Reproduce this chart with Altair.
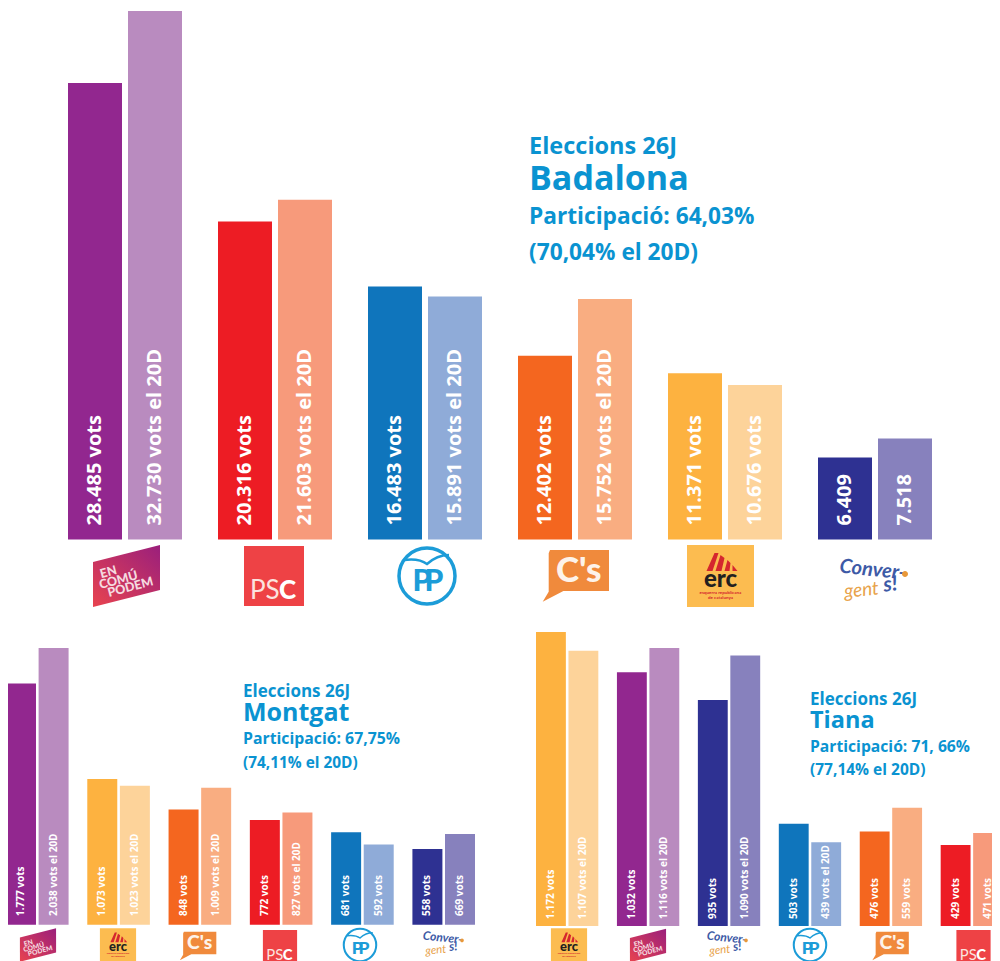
import altair as alt
import pandas as pd

FONT = "Open Sans"
LOGO_FONT = "Lato"
BLUE = "#0a93d1"
BAD_PARTIES = ["ECP", "PSC", "PP", "Cs", "ERC", "CDC"]
BAD_26J = [28485, 20316, 16483, 12402, 11371, 6409]
BAD_20D = [32730, 21603, 15891, 15752, 10676, 7518]
BAD_LAB_26J = ["28.485 vots", "20.316 vots", "16.483 vots", "12.402 vots", "11.371 vots", "6.409"]
BAD_LAB_20D = ["32.730 vots el 20D", "21.603 vots el 20D", "15.891 vots el 20D", "15.752 vots el 20D", "10.676 vots", "7.518"]

MON_PARTIES = ["ECP", "ERC", "Cs", "PSC", "PP", "CDC"]
MON_26J = [1777, 1073, 848, 772, 681, 558]
MON_20D = [2038, 1023, 1009, 827, 592, 669]
MON_LAB_26J = ["1.777 vots", "1.073 vots", "848 vots", "772 vots", "681 vots", "558 vots"]
MON_LAB_20D = ["2.038 vots el 20D", "1.023 vots el 20D", "1.009 vots el 20D", "827 vots el 20D", "592 vots", "669 vots"]

TIA_PARTIES = ["ERC", "ECP", "CDC", "PP", "Cs", "PSC"]
TIA_26J = [1172, 1032, 935, 503, 476, 429]
TIA_20D = [1107, 1116, 1090, 439, 559, 471]
TIA_LAB_26J = ["1.172 vots", "1.032 vots", "935 vots", "503 vots", "476 vots", "429 vots"]
TIA_LAB_20D = ["1.107 vots el 20D", "1.116 vots el 20D", "1.090 vots el 20D", "439 vots el 20D", "559 vots", "471 vots"]

COLOR_KEYS = ["ECP 26J", "ECP 20D", "PSC 26J", "PSC 20D", "PP 26J", "PP 20D",
              "Cs 26J", "Cs 20D", "ERC 26J", "ERC 20D", "CDC 26J", "CDC 20D"]
COLOR_VALUES = ["#92278f", "#b98bbf", "#ed1c24", "#f79a7b", "#0f75bc", "#8fabd8",
                "#f4661f", "#f9ad81", "#fdb240", "#fdd39a", "#2e3192", "#8781bd"]


def P(x):
    return x - 8


def panel(parties, v26, v20, l26, l20, xr, pad, off_pad, yd, yr, fs, lab_off):
    rows = []
    for p, a, b, la, lb in zip(parties, v26, v20, l26, l20):
        rows.append(dict(party=p, year="26J", votes=a, label=la, key=p + " 26J"))
        rows.append(dict(party=p, year="20D", votes=b, label=lb, key=p + " 20D"))
    df = pd.DataFrame(rows)
    band = (xr[1] - xr[0]) / (6 + 5 * pad / (1 - pad))
    x = alt.X("party:N", sort=None, axis=None, title=None,
              scale=alt.Scale(type="band", domain=parties, range=[P(xr[0]), P(xr[1])], paddingInner=pad, paddingOuter=0))
    xo = alt.XOffset("year:N", sort=None,
                     scale=alt.Scale(type="band", domain=["26J", "20D"], range=[0, band], paddingInner=off_pad, paddingOuter=0))
    y = alt.Y("votes:Q", axis=None, title=None,
              scale=alt.Scale(domain=yd, range=[P(yr[0]), P(yr[1])], nice=False, zero=False, clamp=True))
    c = alt.Color("key:N", legend=None, scale=alt.Scale(domain=COLOR_KEYS, range=COLOR_VALUES))
    bars = alt.Chart(df).mark_bar().encode(x=x, xOffset=xo, y=y, y2=alt.value(P(yr[0])), color=c)
    text = alt.Chart(df).mark_text(font=FONT, fontWeight="bold", fontSize=fs, angle=270, align="left",
                                   baseline="middle", color="white", y=P(yr[0] - lab_off)
                                   ).encode(x=x, xOffset=xo, text="label:N")
    return alt.layer(bars, text).resolve_scale(x="independent", xOffset="independent", y="independent")


def txt(s, x, y, size, color=BLUE, weight="bold", angle=0, align="left", style="normal", font=FONT, baseline="alphabetic"):
    return alt.Chart(pd.DataFrame({"t": [s]})).mark_text(
        x=P(x), y=P(y), fontSize=size, color=color, fontWeight=weight, angle=angle, align=align,
        font=font, fontStyle=style, baseline=baseline).encode(text="t:N")


def shp(path, cx, cy, s, fill=None, stroke=None, sw=1.0):
    kw = {}
    if fill is not None:
        kw.update(filled=True, fill=fill, opacity=1, strokeWidth=0)
    if stroke is not None:
        kw.update(filled=False, stroke=stroke, strokeWidth=sw * s, opacity=1)
    return alt.Chart(pd.DataFrame({"a": [0]})).mark_point(
        shape=path, size=4 * s * s, x=P(cx), y=P(cy), **kw).encode(detail="a:Q")


def logo(party, cx, cy, s):
    out = []
    def t(string, dx, dy, size, **k):
        out.append(txt(string, cx + dx * s, cy + dy * s, size * s, font=LOGO_FONT, **k))
    if party == "ECP":
        grad = alt.LinearGradient(gradient="linear", x1=0, y1=1, x2=1, y2=0,
                                  stops=[alt.GradientStop(offset=0, color="#e8434f"),
                                         alt.GradientStop(offset=1, color="#9a1f7c")])
        out.append(shp("M-33.5,-14L33.5,-31L33.5,14L-33.5,31Z", cx, cy, s, fill=grad))
        t("EN", -17, 0, 12.5, color="#f5dbe0", weight=900, angle=345, align="center")
        t("COMÚ", -7, 8, 12.5, color="#f5dbe0", weight=900, angle=345, align="center")
        t("PODEM", 5, 15, 12.5, color="#f5dbe0", weight=900, angle=345, align="center")
    elif party == "PSC":
        out.append(shp("M-30,-30L30,-30L30,30L-30,30Z", cx, cy, s, fill="#ee4245"))
        t("PS", -24, 23, 26, color="#fbe3df", weight="normal")
        t("C", 5, 23, 26, color="white", weight=900)
    elif party == "PP":
        col = "#1c9cd8"
        out.append(shp("M-28,0A28,28 0 1,1 28,0A28,28 0 1,1 -28,0Z", cx, cy, s, stroke=col, sw=3.5))
        out.append(shp("M-23,-16Q-8,-18 0,-12Q10,-21 22,-21", cx, cy, s, stroke=col, sw=2.5))
        t("P", -5, 15, 30, color=col, weight=900, align="center")
        t("P", 7, 15, 30, color=col, weight=900, align="center")
    elif party == "Cs":
        out.append(shp("M-25.7,-26L33.3,-26L33.3,15L-12.3,15L-33,25.7L-27,15.7L-27,-22.7Z", cx, cy, s, fill="#f08a3c"))
        t("C's", 3, 6, 35, color="#fdf3ea", weight=900, align="center")
    elif party == "ERC":
        out.append(shp("M-33.5,-31L33.5,-31L33.5,31L-33.5,31Z", cx, cy, s, fill="#fcbc50"))
        out.append(shp("M-14,-5L-6,-23L-2,-23L-8,-5ZM-5,-5L0,-21L4,-18L1,-5ZM4,-5L7,-16L10,-13L9,-5ZM12,-5L12,-11L17,-5Z", cx, cy, s, fill="#d5272e"))
        t("erc", 0, 11, 24, color="#231f20", weight=900, align="center")
        t("esquerra republicana", 0, 18, 4.5, color="#d5272e", align="center")
        t("de catalunya", 0, 23, 4.5, color="#d5272e", align="center")
    else:
        t("Conver-", -3, -4, 20, color="#3d5aa6", weight="bold", style="italic", align="center", angle=6)
        t("gent", -13, 16, 19, color="#e8a24a", weight="normal", style="italic", align="center", angle=354)
        t("s!", 16, 11, 21, color="#3d5aa6", weight="bold", style="italic", align="center", angle=354)
        out.append(shp("M-3,0A3,3 0 1,1 3,0A3,3 0 1,1 -3,0Z", cx + 30 * s, cy - 6 * s, s, fill="#e8983a"))
    return out


badalona = panel(BAD_PARTIES, BAD_26J, BAD_20D, BAD_LAB_26J, BAD_LAB_20D,
                 (68, 932), 0.24, 0.1, [1569, 32730], (539.5, 11), 20, 14)
montgat = panel(MON_PARTIES, MON_26J, MON_20D, MON_LAB_26J, MON_LAB_20D,
                (6, 475), 0.23, 0.08, [-9, 2038], (926, 648), 10, 10)
tiana = panel(TIA_PARTIES, TIA_26J, TIA_20D, TIA_LAB_26J, TIA_LAB_20D,
              (536, 1003), 0.23, 0.08, [146.5, 1172], (926, 632), 10, 7)

layers = [badalona, montgat, tiana]
for s, x, y, size in [
    ("Eleccions 26J", 529, 154, 23.5), ("Badalona", 529, 190, 34),
    ("Participació: 64,03%", 529, 224, 22.7), ("(70,04% el 20D)", 529, 260, 22.7),
    ("Eleccions 26J", 243, 697, 17), ("Montgat", 243, 721, 25),
    ("Participació: 67,75%", 243, 744, 15.8), ("(74,11% el 20D)", 243, 768, 15.4),
    ("Eleccions 26J", 810, 705, 17), ("Tiana", 810, 728, 23.5),
    ("Participació: 71, 66%", 810, 752, 15.7), ("(77,14% el 20D)", 810, 775, 15.5),
]:
    layers.append(txt(s, x, y, size))

for party, cx, cy, s in [
    ("ECP", 126.5, 576, 1), ("PSC", 274, 576, 1), ("PP", 427, 576, 1), ("Cs", 575.7, 576, 1),
    ("ERC", 720.5, 576, 1), ("CDC", 875, 580, 1),
    ("ECP", 38, 945, 0.54), ("ERC", 118, 945, 0.54), ("Cs", 198, 946, 0.55), ("PSC", 280, 947, 0.57),
    ("PP", 360, 945, 0.58), ("CDC", 444, 944, 0.6),
    ("ERC", 569, 945, 0.54), ("ECP", 648, 945.5, 0.54), ("CDC", 728, 944, 0.6), ("PP", 810, 945, 0.58),
    ("Cs", 890.5, 946, 0.55), ("PSC", 973.5, 947, 0.57),
]:
    layers.extend(logo(party, cx, cy, s))

chart = alt.layer(*layers).resolve_scale(x="independent", xOffset="independent", y="independent").properties(
    width=984, height=953, padding=0, autosize=alt.AutoSizeParams(type="none"), background="white"
).configure_view(stroke=None)

chart.save("out.html", embed_options={"renderer": "svg", "actions": False})
